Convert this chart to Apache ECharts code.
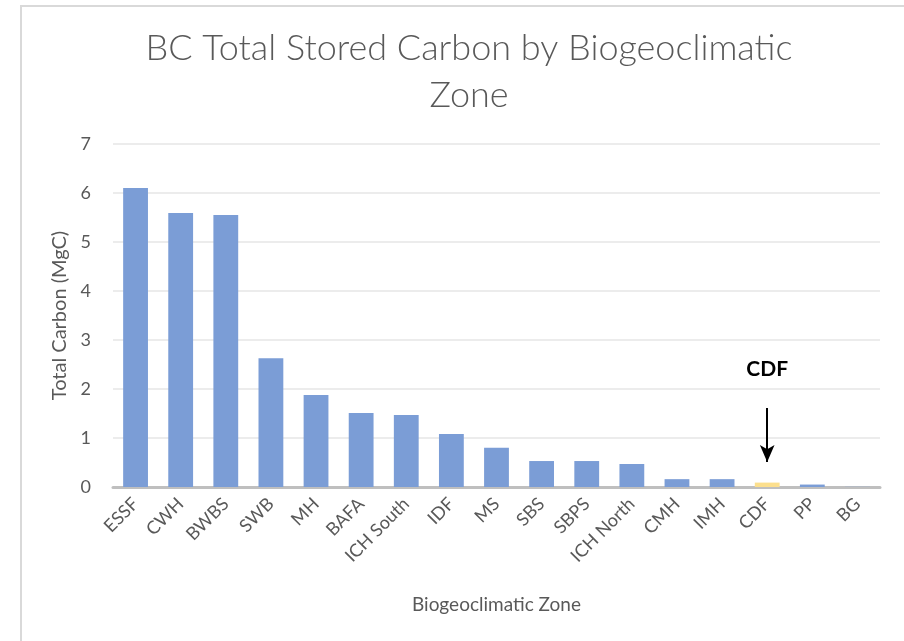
<!DOCTYPE html>
<html>
<head>
<meta charset="utf-8">
<script src="https://cdn.jsdelivr.net/npm/echarts@6/dist/echarts.min.js"></script>
<style>
  html, body { margin: 0; padding: 0; background: #ffffff; }
  #chart { width: 904px; height: 641px; }
</style>
</head>
<body>
<div id="chart"></div>
<script>
// Biogeoclimatic zones, ordered by total stored carbon
const zones = ['ESSF', 'CWH', 'BWBS', 'SWB', 'MH', 'BAFA', 'ICH South', 'IDF', 'MS',
  'SBS', 'SBPS', 'ICH North', 'CMH', 'IMH', 'CDF', 'PP', 'BG'];
// Total carbon (MgC) per zone
const totalCarbon = [6.10, 5.59, 5.55, 2.63, 1.88, 1.51, 1.47, 1.08, 0.80,
  0.53, 0.53, 0.47, 0.16, 0.16, 0.09, 0.05, 0.003];
// Zone called out on the chart
const highlightZone = 'CDF';
const yTicks = [0, 1, 2, 3, 4, 5, 6, 7];

const FONT = 'Lato, "Open Sans", sans-serif';
const TEXT = '#595959';

const barData = zones.map((z, i) => ({
  value: totalCarbon[i],
  itemStyle: { color: z === highlightZone ? '#fcdf8d' : '#7b9dd6' }
}));

const chart = echarts.init(document.getElementById('chart'), null, { renderer: 'canvas' });
chart.setOption({
  animation: false,
  backgroundColor: '#ffffff',
  title: {
    text: 'BC Total Stored Carbon by Biogeoclimatic\nZone',
    left: 464,
    top: 20,
    textAlign: 'center',
    textStyle: {
      fontFamily: FONT,
      fontWeight: 300,
      fontSize: 36,
      lineHeight: 47,
      color: TEXT
    }
  },
  graphic: [{
    type: 'polyline',
    shape: { points: [[21, 641], [21, 6], [904, 6]] },
    style: { stroke: '#d9d9d9', lineWidth: 2, fill: null },
    silent: true
  }],
  grid: { left: 113, right: 24, top: 144, bottom: 154 },
  xAxis: {
    type: 'category',
    data: zones,
    name: 'Biogeoclimatic Zone',
    nameLocation: 'middle',
    nameGap: 108,
    nameTextStyle: { fontFamily: FONT, fontSize: 19, color: TEXT },
    axisLine: { lineStyle: { color: '#bfbfbf', width: 3 } },
    axisTick: { show: false },
    axisLabel: {
      rotate: 45,
      interval: 0,
      margin: 14,
      fontFamily: FONT,
      fontSize: 18,
      color: TEXT
    }
  },
  yAxis: {
    type: 'value',
    min: yTicks[0],
    max: yTicks[yTicks.length - 1],
    interval: 1,
    name: 'Total Carbon (MgC)',
    nameLocation: 'middle',
    nameGap: 40,
    nameRotate: 90,
    nameTextStyle: { fontFamily: FONT, fontSize: 20, color: TEXT },
    axisLine: { show: false },
    axisTick: { show: false },
    axisLabel: { margin: 22, fontFamily: FONT, fontSize: 18, color: TEXT },
    splitLine: { lineStyle: { color: '#ececec', width: 2 } }
  },
  series: [{
    type: 'bar',
    data: barData,
    barCategoryGap: '45%',
    markLine: {
      silent: true,
      symbol: ['none', 'arrow'],
      symbolSize: [11, 17],
      label: { show: false },
      lineStyle: { color: '#000000', width: 2, type: 'solid' },
      data: [[{ coord: [highlightZone, 1.61] }, { coord: [highlightZone, 0.51] }]]
    },
    markPoint: {
      silent: true,
      symbol: 'circle',
      symbolSize: 0,
      label: {
        show: true,
        position: 'inside',
        formatter: highlightZone,
        fontFamily: FONT,
        fontWeight: 'bold',
        fontSize: 21,
        color: '#000000'
      },
      data: [{ coord: [highlightZone, 2.4] }]
    }
  }]
});
</script>
</body>
</html>
